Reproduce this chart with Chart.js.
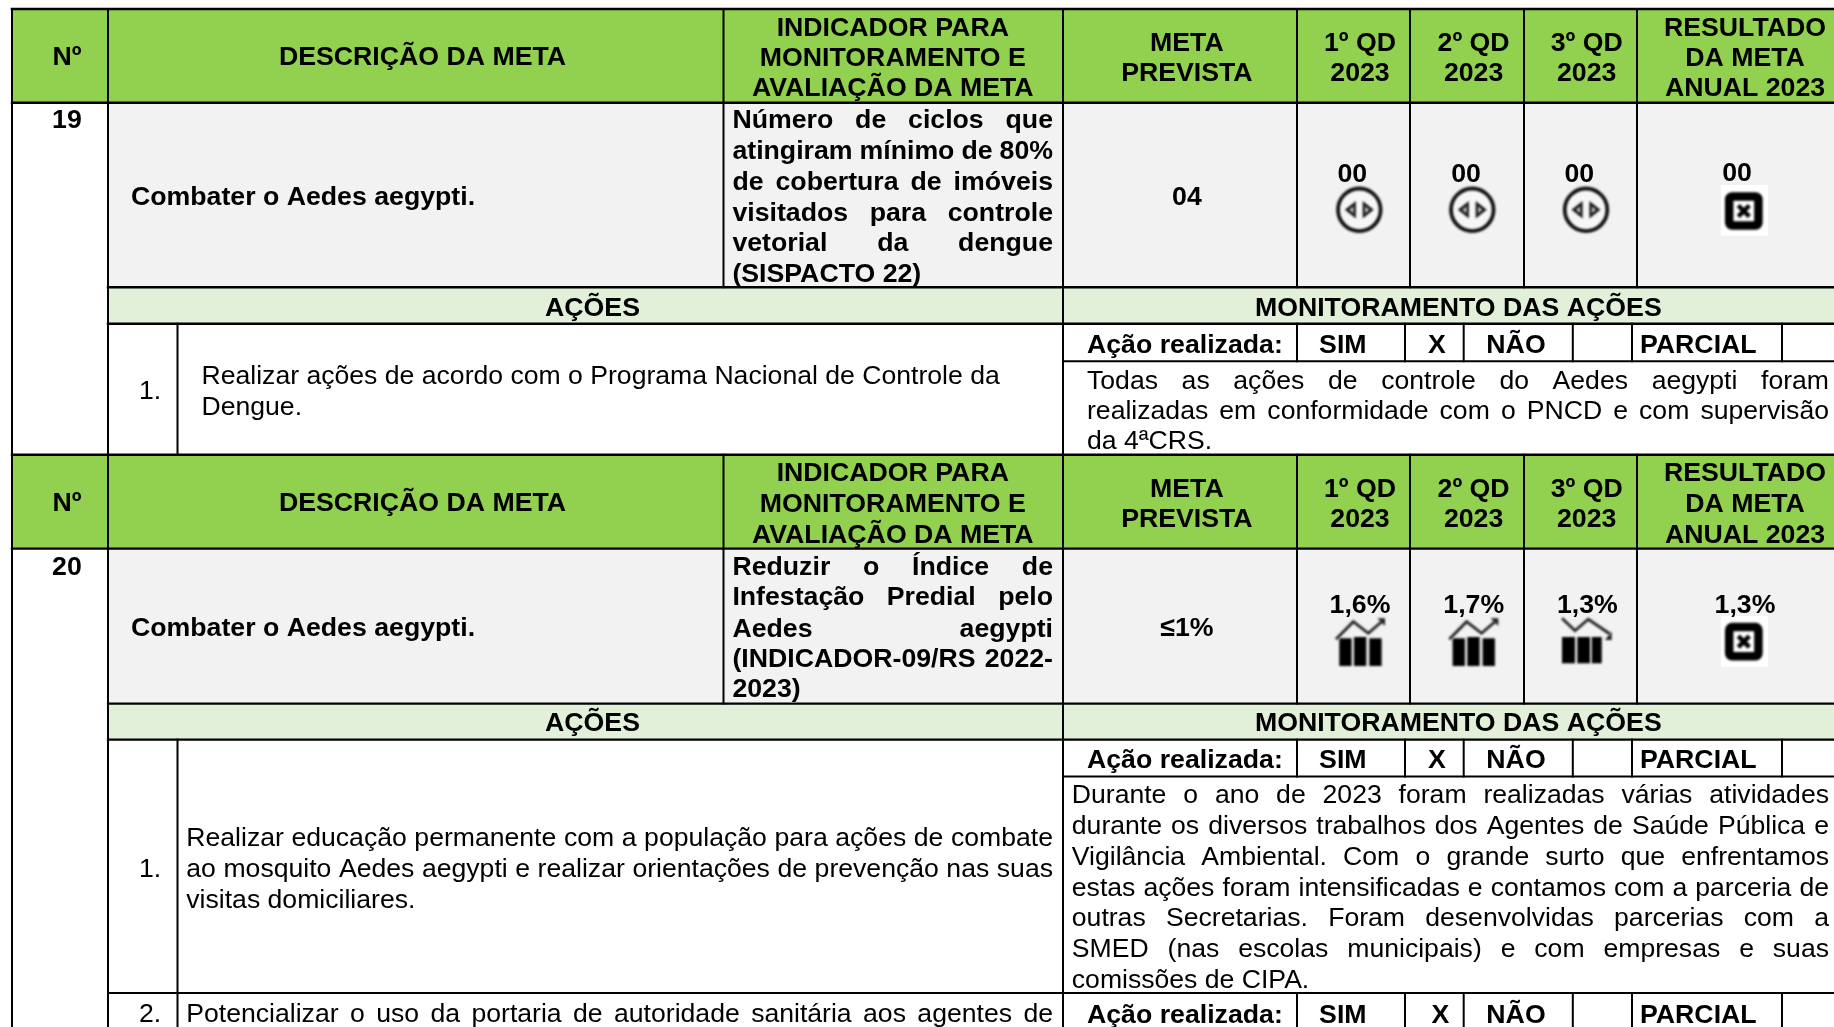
<!DOCTYPE html>
<html>
<head>
<meta charset="utf-8">
<script src="https://cdn.jsdelivr.net/npm/chart.js@4"></script>
<style>
  html, body { margin: 0; padding: 0; background: #ffffff; overflow: hidden; }
  canvas { display: block; }
</style>
</head>
<body>
<canvas id="myChart" width="1834" height="1027"></canvas>
<script>
// table content
const headDesc = 'DESCRIÇÃO DA META';
const headNo = 'Nº';
const headIndicator = ['INDICADOR PARA', 'MONITORAMENTO E', 'AVALIAÇÃO DA META'];
const headTarget = ['META', 'PREVISTA'];
const headQuarters = [['1º QD', '2023'], ['2º QD', '2023'], ['3º QD', '2023']];
const headResult = ['RESULTADO', 'DA META', 'ANUAL 2023'];
const goalNumbers = ['19', '20'];
const goalDesc = 'Combater o Aedes aegypti.';
const indicator19 = ['Número de ciclos que', 'atingiram mínimo de 80%', 'de cobertura de imóveis', 'visitados para controle', 'vetorial da dengue', '(SISPACTO 22)'];
const indicator20 = ['Reduzir o Índice de', 'Infestação Predial pelo', 'Aedes aegypti', '(INDICADOR-09/RS 2022-', '2023)'];
const targets = ['04', '≤1%'];
const results19 = ['00', '00', '00', '00'];
const results20 = ['1,6%', '1,7%', '1,3%', '1,3%'];
const icons19 = ['steady', 'steady', 'steady', 'cross'];
const icons20 = ['up', 'up', 'down', 'cross'];
const actionsTitle = 'AÇÕES';
const monitorTitle = 'MONITORAMENTO DAS AÇÕES';
const doneLabel = 'Ação realizada:';
const doneOptions = ['SIM', 'X', 'NÃO', 'PARCIAL'];
const action19 = ['Realizar ações de acordo com o Programa Nacional de Controle da', 'Dengue.'];
const note19 = ['Todas as ações de controle do Aedes aegypti foram', 'realizadas em conformidade com o PNCD e com supervisão', 'da 4ªCRS.'];
const action20a = ['Realizar educação permanente com a população para ações de combate', 'ao mosquito Aedes aegypti e realizar orientações de prevenção nas suas', 'visitas domiciliares.'];
const note20 = ['Durante o ano de 2023 foram realizadas várias atividades', 'durante os diversos trabalhos dos Agentes de Saúde Pública e', 'Vigilância Ambiental. Com o grande surto que enfrentamos', 'estas ações foram intensificadas e contamos com a parceria de', 'outras Secretarias. Foram desenvolvidas parcerias com a', 'SMED (nas escolas municipais) e com empresas e suas', 'comissões de CIPA.'];
const action20b = 'Potencializar o uso da portaria de autoridade sanitária aos agentes de';

// grid of the table, in axis units
const doneX = [1297, 1405, 1463.7, 1572.8, 1632, 1782];
const numX = 177.5;
const END = 1027;

// [x1, y1, x2, y2, width]
const rules = [
    [12, 9, 1834, 9, 2.6], [12, 102.7, 1834, 102.7, 2.4], [108, 287.3, 1834, 287.3, 2.4], [108, 323.7, 1834, 323.7, 2.4],
    [1063, 361.3, 1834, 361.3, 2], [12, 454.7, 1834, 454.7, 2.4], [12, 548.6, 1834, 548.6, 2.4], [108, 703.6, 1834, 703.6, 2.2],
    [108, 739.7, 1834, 739.7, 2.2], [1063, 776.5, 1834, 776.5, 2], [108, 992.9, 1834, 992.9, 2],
    [12, 9, 12, END, 2], [108, 9, 108, END, 2], [1063, 9, 1063, END, 2], [numX, 323.7, numX, 454.7, 2], [numX, 739.7, numX, END, 2]
];
[723.5, 1297, 1410, 1524, 1637].forEach(x => {
    rules.push([x, 9, x, 287.3, 2], [x, 454.7, x, 703.6, 2]);
});
doneX.forEach(x => {
    rules.push([x, 323.7, x, 361.3, 2], [x, 739.7, x, 776.5, 2], [x, 992.9, x, END, 2]);
});

const BOLD = 'bold 26.7px "Liberation Sans"';
const NORMAL = '26.6px "Liberation Sans"';
const DROP = 8.8;

const tablePlugin = {
    id: 'tablePlugin',
    beforeDatasetsDraw(chart) {
        const { ctx, scales } = chart;
        const fillBox = (x1, y1, x2, y2, color) => {
            const left = scales.x.getPixelForValue(x1);
            const top = scales.y.getPixelForValue(y1);
            ctx.fillStyle = color;
            ctx.fillRect(left, top, scales.x.getPixelForValue(x2) - left, scales.y.getPixelForValue(y2) - top);
        };
        ctx.save();
        fillBox(12, 9, 1834, 102.7, '#92d050');
        fillBox(12, 454.7, 1834, 548.6, '#92d050');
        fillBox(108, 102.7, 1834, 287.3, '#f2f2f2');
        fillBox(108, 548.6, 1834, 703.6, '#f2f2f2');
        fillBox(108, 287.3, 1834, 323.7, '#e2efd9');
        fillBox(108, 703.6, 1834, 739.7, '#e2efd9');
        fillBox(1721, 185, 1768, 235.7, '#ffffff');
        fillBox(1721, 616, 1768, 666.7, '#ffffff');
        ctx.restore();
    },
    afterDatasetsDraw(chart) {
        const { ctx, scales } = chart;
        const px = v => scales.x.getPixelForValue(v);
        const py = v => scales.y.getPixelForValue(v);

        ctx.save();
        ctx.fillStyle = '#000000';
        ctx.textBaseline = 'alphabetic';

        function centered(text, x, y, font) {
            ctx.font = font;
            ctx.textAlign = 'center';
            ctx.fillText(text, px(x), py(y) + DROP);
        }
        function leftText(text, x, y, font) {
            ctx.font = font;
            ctx.textAlign = 'left';
            ctx.fillText(text, px(x), py(y) + DROP);
        }
        // justified line, spaces are stretched up to the right edge
        function justified(text, x1, x2, y, font) {
            ctx.font = font;
            ctx.textAlign = 'left';
            const words = text.split(' ');
            let used = 0;
            words.forEach(w => { used += ctx.measureText(w).width; });
            const gap = (px(x2) - px(x1) - used) / (words.length - 1);
            let cur = px(x1);
            words.forEach(w => {
                ctx.fillText(w, cur, py(y) + DROP);
                cur += ctx.measureText(w).width + gap;
            });
        }
        function paragraph(lines, x1, x2, ys, font, lastIsFree) {
            lines.forEach((line, i) => {
                if (lastIsFree && i === lines.length - 1) leftText(line, x1, ys[i], font);
                else justified(line, x1, x2, ys[i], font);
            });
        }

        function header(yNo, yInd, yTwo) {
            centered(headNo, 66.9, yNo, BOLD);
            centered(headDesc, 422.5, yNo, BOLD);
            headIndicator.forEach((t, i) => centered(t, 892.8, yInd[i], BOLD));
            headTarget.forEach((t, i) => centered(t, 1186.9, yTwo[i], BOLD));
            const qx = [1360, 1473.6, 1586.7];
            headQuarters.forEach((q, c) => q.forEach((t, i) => centered(t, qx[c], yTwo[i], BOLD)));
            headResult.forEach((t, i) => centered(t, 1745, yInd[i], BOLD));
        }
        function doneRow(y, xMark) {
            leftText(doneLabel, 1087, y, BOLD);
            centered(doneOptions[0], 1342.8, y, BOLD);
            centered(doneOptions[1], xMark, y, BOLD);
            centered(doneOptions[2], 1516, y, BOLD);
            leftText(doneOptions[3], 1640, y, BOLD);
        }

        // block 19
        header(56.5, [26.7, 56.7, 87], [41.7, 72.3]);
        centered(goalNumbers[0], 66.9, 119.3, BOLD);
        leftText(goalDesc, 131, 196, BOLD);
        paragraph(indicator19, 732.4, 1053, [119.3, 150, 181.3, 211.7, 242.3, 272.7], BOLD, true);
        centered(targets[0], 1186.9, 196, BOLD);
        [1352.3, 1466, 1579.3, 1737].forEach((x, i) => centered(results19[i], x, i === 3 ? 172 : 172.7, BOLD));
        centered(actionsTitle, 592.5, 307, BOLD);
        centered(monitorTitle, 1458.3, 307, BOLD);
        doneRow(344.3, 1437);
        centered('1.', 150, 390, NORMAL);
        action19.forEach((t, i) => leftText(t, 201.5, [375.3, 406][i], NORMAL));
        paragraph(note19, 1087, 1829, [379.8, 409.8, 440.5], NORMAL, true);

        // block 20
        header(502.5, [472.3, 503.6, 533.8], [487.8, 518.4]);
        centered(goalNumbers[1], 66.9, 566.1, BOLD);
        leftText(goalDesc, 131, 627.4, BOLD);
        paragraph(indicator20, 732.4, 1053, [566.1, 596.6, 627.9, 658.1, 688.6], BOLD, true);
        centered(targets[1], 1186.9, 627.4, BOLD);
        [1360, 1473.7, 1587.3, 1745].forEach((x, i) => centered(results20[i], x, 604, BOLD));
        centered(actionsTitle, 592.5, 722.6, BOLD);
        centered(monitorTitle, 1458.3, 722.6, BOLD);
        doneRow(759.4, 1437);
        centered('1.', 150, 867.7, NORMAL);
        paragraph(action20a, 186.3, 1053, [837.2, 868.5, 899], NORMAL, true);
        paragraph(note20, 1071.8, 1829, [794.5, 825.4, 856, 886.9, 917.4, 948, 978.9], NORMAL, true);
        centered('2.', 150, 1013, NORMAL);
        justified(action20b, 186.3, 1053, 1013, NORMAL);
        doneRow(1014, 1440.5);

        // status icons, scanned look so a small blur
        ctx.filter = 'blur(0.8px)';
        function steady(cx, cy) {
            const x0 = px(cx), y0 = py(cy);
            ctx.fillStyle = '#f6f6f6';
            ctx.beginPath();
            ctx.arc(x0, y0, 20, 0, Math.PI * 2);
            ctx.fill();
            ctx.strokeStyle = '#111111';
            ctx.lineWidth = 3.8;
            ctx.beginPath();
            ctx.arc(x0, y0, 21.3, 0, Math.PI * 2);
            ctx.stroke();
            ctx.fillStyle = '#1a1a1a';
            [-1, 1].forEach(s => {
                ctx.beginPath();
                ctx.moveTo(x0 + s * 3.4, y0 - 8.8);
                ctx.lineTo(x0 + s * 3.4, y0 + 8.8);
                ctx.lineTo(x0 + s * 14.5, y0);
                ctx.closePath();
                ctx.fill();
            });
            ctx.fillStyle = '#c4c4c4';
            [-1, 1].forEach(s => {
                ctx.beginPath();
                ctx.moveTo(x0 + s * 5.8, y0 - 3.4);
                ctx.lineTo(x0 + s * 5.8, y0 + 3.4);
                ctx.lineTo(x0 + s * 10, y0);
                ctx.closePath();
                ctx.fill();
            });
        }
        function cross(cx, cy) {
            const x0 = px(cx), y0 = py(cy);
            ctx.strokeStyle = '#000000';
            ctx.lineWidth = 8.5;
            ctx.beginPath();
            ctx.roundRect(x0 - 14.6, y0 - 14.6, 29.2, 29.2, 3);
            ctx.stroke();
            ctx.lineWidth = 4.5;
            ctx.beginPath();
            ctx.moveTo(x0 - 5.5, y0 - 5.5);
            ctx.lineTo(x0 + 5.5, y0 + 5.5);
            ctx.moveTo(x0 + 5.5, y0 - 5.5);
            ctx.lineTo(x0 - 5.5, y0 + 5.5);
            ctx.stroke();
        }
        function trend(cx, cy, rising) {
            const x0 = px(cx), y0 = py(cy);
            const bars = rising
                ? [[-21.2, -6.7, 12.3, 27.7], [-6.5, -8, 12.3, 29], [8.8, -6.7, 12.3, 27.7]]
                : [[-25, -8, 13, 26.3], [-9.7, -8, 12.7, 26.3], [4.7, -8, 10, 26.3]];
            ctx.fillStyle = '#000000';
            bars.forEach(b => {
                ctx.fillRect(x0 + b[0], y0 + b[1], b[2], b[3]);
            });
            const path = rising
                ? [[-24.5, -5.7], [-7.2, -23.3], [7.8, -11.7], [22, -24]]
                : [[-25, -26.7], [-12, -14.3], [1.3, -25.7], [23, -11]];
            ctx.strokeStyle = '#222222';
            ctx.lineWidth = 2.8;
            ctx.beginPath();
            path.forEach((p, i) => {
                if (i === 0) ctx.moveTo(x0 + p[0], y0 + p[1]);
                else ctx.lineTo(x0 + p[0], y0 + p[1]);
            });
            ctx.stroke();
            ctx.fillStyle = '#222222';
            ctx.beginPath();
            if (rising) {
                ctx.moveTo(x0 + 16.8, y0 - 26.7);
                ctx.lineTo(x0 + 24.5, y0 - 26.7);
                ctx.lineTo(x0 + 24.5, y0 - 19);
            } else {
                ctx.moveTo(x0 + 18, y0 - 5);
                ctx.lineTo(x0 + 24.7, y0 - 5);
                ctx.lineTo(x0 + 24.7, y0 - 13.3);
            }
            ctx.closePath();
            ctx.fill();
        }
        const drawIcon = (kind, x, y) => {
            if (kind === 'steady') steady(x, y);
            if (kind === 'cross') cross(x, y);
            if (kind === 'up') trend(x, y, true);
            if (kind === 'down') trend(x, y, false);
        };
        [1359.3, 1472.3, 1586, 1743.8].forEach((x, i) => drawIcon(icons19[i], x, i === 3 ? 211 : 209.8));
        [1360.5, 1473.8, 1587, 1743.8].forEach((x, i) => drawIcon(icons20[i], x, i === 3 ? 641.7 : 645));
        ctx.restore();
    }
};

const ctx = document.getElementById('myChart').getContext('2d');
new Chart(ctx, {
    type: 'scatter',
    data: {
        datasets: rules.map(r => ({
            data: [{ x: r[0], y: r[1] }, { x: r[2], y: r[3] }],
            showLine: true,
            borderColor: '#000000',
            borderWidth: r[4],
            borderCapStyle: 'square',
            pointRadius: 0,
            clip: false
        }))
    },
    options: {
        responsive: false,
        animation: false,
        layout: { padding: 0 },
        plugins: { legend: { display: false }, tooltip: { enabled: false }, title: { display: false } },
        scales: {
            x: { type: 'linear', min: 0, max: 1834, display: false },
            y: { type: 'linear', min: 0, max: 1027, reverse: true, display: false }
        }
    },
    plugins: [tablePlugin]
});
</script>
</body>
</html>
